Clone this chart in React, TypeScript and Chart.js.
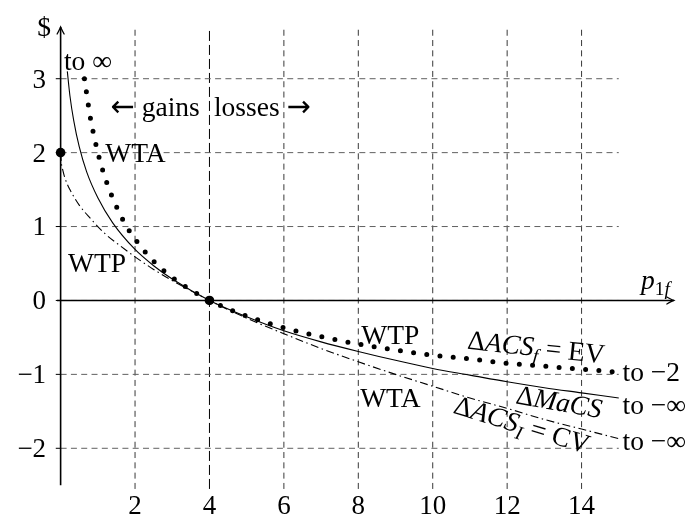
import React, { useEffect, useRef } from "react";
import { Chart, registerables } from "chart.js";
Chart.register(...registerables);

const FONT = '"Liberation Serif", "Times New Roman", serif';
const ARROW_FONT = '"DejaVu Sans", sans-serif';
const FS = 27.5;
const FS_TICK = 27;

// ---- data ----
const macsX = [0.18, 0.25, 0.35, 0.5, 0.7, 1, 1.4, 2, 2.5, 3, 4, 5, 6, 7, 8, 9, 10, 11, 12, 13, 14, 15];
const macsY = [3.1, 2.77, 2.44, 2.08, 1.74, 1.39, 1.05, 0.69, 0.47, 0.29, 0, -0.22, -0.41, -0.56, -0.69, -0.81, -0.92, -1.01, -1.1, -1.18, -1.25, -1.32];

const cvX = [0, 0.02, 0.06, 0.12, 0.25, 0.5, 0.8, 1.2, 1.6, 2, 2.5, 3, 4, 5, 6, 7, 8, 9, 10, 11, 12, 13, 14, 15];
const cvY = [2, 1.86, 1.76, 1.65, 1.5, 1.29, 1.11, 0.9, 0.74, 0.59, 0.42, 0.27, 0, -0.24, -0.45, -0.65, -0.83, -1.0, -1.16, -1.32, -1.46, -1.61, -1.74, -1.87];

const evX = [0.64, 0.8, 0.9, 1, 1.15, 1.3, 1.5, 1.75, 2, 2.5, 3, 3.5, 4, 5, 6, 7, 8, 9, 10, 11, 12, 13, 14, 15];
const evY = [3.0, 2.47, 2.22, 2.0, 1.73, 1.51, 1.27, 1.02, 0.83, 0.53, 0.31, 0.14, 0, -0.21, -0.37, -0.49, -0.59, -0.67, -0.74, -0.79, -0.85, -0.89, -0.93, -0.97];

const keyX = [0, 4];
const keyY = [2, 0];

const xTicks = [2, 4, 6, 8, 10, 12, 14];
const xTickLabels = ["2", "4", "6", "8", "10", "12", "14"];
const yTicks = [-2, -1, 0, 1, 2, 3];
const yTickLabels = ["\u22122", "\u22121", "0", "1", "2", "3"];

// axis / grid extents (data units)
const GRID_X_END = 15;
const GRID_Y_LO = -2.55;
const GRID_Y_HI = 3.68;
const YAXIS_LO = -2.5;
const YAXIS_HI = 3.7;
const XAXIS_HI = 16.48;

type Seg = { t: string; it?: boolean; sub?: boolean; arrow?: boolean };
type Label = { segs: Seg[]; x: number; y: number; align: "left" | "center" | "right"; rot?: number };

const labels: Label[] = [
  { segs: [{ t: "to \u221e" }], x: 0.09, y: 3.24, align: "left" },
  { segs: [{ t: "\u2190", arrow: true }, { t: " gains" }], x: 3.74, y: 2.62, align: "right" },
  { segs: [{ t: "losses " }, { t: "\u2192", arrow: true }], x: 4.12, y: 2.62, align: "left" },
  { segs: [{ t: "WTA" }], x: 1.2, y: 2.0, align: "left" },
  { segs: [{ t: "WTP" }], x: 0.2, y: 0.51, align: "left" },
  { segs: [{ t: "WTP" }], x: 8.08, y: -0.47, align: "left" },
  { segs: [{ t: "WTA" }], x: 8.05, y: -1.32, align: "left" },
  { segs: [{ t: "\u0394" }, { t: "ACS", it: true }, { t: "f", it: true, sub: true }, { t: " = EV" }], x: 12.78, y: -0.63, align: "center", rot: 6 },
  { segs: [{ t: "\u0394" }, { t: "MaCS", it: true }], x: 13.4, y: -1.37, align: "center", rot: 10 },
  { segs: [{ t: "\u0394" }, { t: "ACS", it: true }, { t: "I", it: true, sub: true }, { t: " = CV" }], x: 12.4, y: -1.68, align: "center", rot: 17 },
  { segs: [{ t: "to \u22122" }], x: 15.1, y: -0.97, align: "left" },
  { segs: [{ t: "to \u2212\u221e" }], x: 15.1, y: -1.42, align: "left" },
  { segs: [{ t: "to \u2212\u221e" }], x: 15.1, y: -1.9, align: "left" },
  { segs: [{ t: "p", it: true }, { t: "1", sub: true }, { t: "f", it: true, sub: true }], x: 15.6, y: 0.28, align: "left" },
  { segs: [{ t: "$" }], x: -0.44, y: 3.7, align: "center" },
];

const zip = (xs: number[], ys: number[]) => xs.map((x, i) => ({ x, y: ys[i] }));

function drawRich(ctx: CanvasRenderingContext2D, segs: Seg[], x: number, y: number, size: number, align: string, rot = 0) {
  const fontOf = (s: Seg) =>
    s.arrow ? `${size * 1.05}px ${ARROW_FONT}` : `${s.it ? "italic " : ""}${s.sub ? size * 0.7 : size}px ${FONT}`;
  const widths = segs.map((s) => {
    ctx.font = fontOf(s);
    return ctx.measureText(s.t).width;
  });
  const total = widths.reduce((a, b) => a + b, 0);
  ctx.save();
  ctx.translate(x, y);
  ctx.rotate((rot * Math.PI) / 180);
  ctx.textAlign = "left";
  ctx.textBaseline = "alphabetic";
  ctx.fillStyle = "#000";
  let cx = align === "left" ? 0 : align === "center" ? -total / 2 : -total;
  segs.forEach((s, i) => {
    ctx.font = fontOf(s);
    ctx.fillText(s.t, cx, size * 0.33 + (s.sub ? size * 0.22 : 0));
    cx += widths[i];
  });
  ctx.restore();
}

const overlay = {
  id: "overlay",
  afterDatasetsDraw(chart: any) {
    const ctx: CanvasRenderingContext2D = chart.ctx;
    const xs = chart.scales.x;
    const ys = chart.scales.y;
    const px = (v: number) => xs.getPixelForValue(v);
    const py = (v: number) => ys.getPixelForValue(v);
    ctx.save();
    // arrowheads
    ctx.strokeStyle = "#000";
    ctx.lineWidth = 1.3;
    ctx.lineCap = "round";
    const tx = px(0), ty = py(YAXIS_HI);
    ctx.beginPath();
    ctx.moveTo(tx - 3.5, ty + 7);
    ctx.quadraticCurveTo(tx - 0.8, ty + 2, tx, ty);
    ctx.quadraticCurveTo(tx + 0.8, ty + 2, tx + 3.5, ty + 7);
    ctx.stroke();
    const ax = px(XAXIS_HI), ay = py(0);
    ctx.beginPath();
    ctx.moveTo(ax - 7, ay - 3.5);
    ctx.quadraticCurveTo(ax - 2, ay - 0.8, ax, ay);
    ctx.quadraticCurveTo(ax - 2, ay + 0.8, ax - 7, ay + 3.5);
    ctx.stroke();
    // tick labels
    yTicks.forEach((v, i) => drawRich(ctx, [{ t: yTickLabels[i] }], px(-0.39), py(v), FS_TICK, "right"));
    xTicks.forEach((v, i) => drawRich(ctx, [{ t: xTickLabels[i] }], px(v), py(-2.77), FS_TICK, "center"));
    labels.forEach((l) => drawRich(ctx, l.segs, px(l.x), py(l.y), FS, l.align, l.rot || 0));
    ctx.restore();
  },
};

export default function App() {
  const ref = useRef<HTMLCanvasElement>(null);
  useEffect(() => {
    const line = (data: any[], extra: any) => ({
      data,
      pointRadius: 0,
      borderColor: "#000",
      borderWidth: 1,
      fill: false,
      tension: 0,
      ...extra,
    });
    const datasets: any[] = [
      { data: zip(keyX, keyY), showLine: false, pointRadius: 4.8, pointBackgroundColor: "#000", pointBorderWidth: 0, order: 0 },
      line(zip(evX, evY), { borderWidth: 5, borderDash: [0, 13.3], borderCapStyle: "round", cubicInterpolationMode: "monotone", order: 1 }),
      line(zip(macsX, macsY), { borderWidth: 1.1, cubicInterpolationMode: "monotone", order: 2 }),
      line(zip(cvX, cvY), { borderWidth: 1.1, borderDash: [8, 3.5, 1.5, 3.5], cubicInterpolationMode: "monotone", order: 3 }),
      line([{ x: 0, y: YAXIS_LO }, { x: 0, y: YAXIS_HI }], { borderWidth: 1.6, order: 4 }),
      line([{ x: -0.1, y: 0 }, { x: XAXIS_HI, y: 0 }], { borderWidth: 1.4, order: 4 }),
    ];
    yTicks.forEach((v) => {
      datasets.push(line([{ x: -0.13, y: v }, { x: 0, y: v }], { borderWidth: 1, order: 5 }));
      datasets.push(line([{ x: 0, y: v }, { x: GRID_X_END, y: v }], { borderWidth: 1, borderColor: "#606060", borderDash: [6, 4.3], order: 6 }));
    });
    xTicks.forEach((v) => {
      const special = v === 4;
      datasets.push(
        line([{ x: v, y: GRID_Y_LO }, { x: v, y: GRID_Y_HI }], {
          borderWidth: 1,
          borderColor: special ? "#000" : "#383838",
          borderDash: special ? [10, 4] : [6, 4.3],
          order: 6,
        })
      );
    });
    const chart = new Chart(ref.current!, {
      type: "line",
      data: { datasets },
      options: {
        animation: false,
        responsive: true,
        maintainAspectRatio: false,
        events: [],
        layout: { padding: { left: 3.5, right: 1.7, top: 0, bottom: 1.7 } },
        plugins: { legend: { display: false }, tooltip: { enabled: false } },
        scales: {
          x: { type: "linear", min: -1.5, max: 17, display: false },
          y: { type: "linear", min: -3, max: 4, display: false },
        },
      },
      plugins: [overlay],
    } as any);
    return () => chart.destroy();
  }, []);
  return (
    <div style={{ position: "fixed", left: 0, top: 0, width: 698, height: 527, background: "#fff" }}>
      <canvas ref={ref} />
    </div>
  );
}
